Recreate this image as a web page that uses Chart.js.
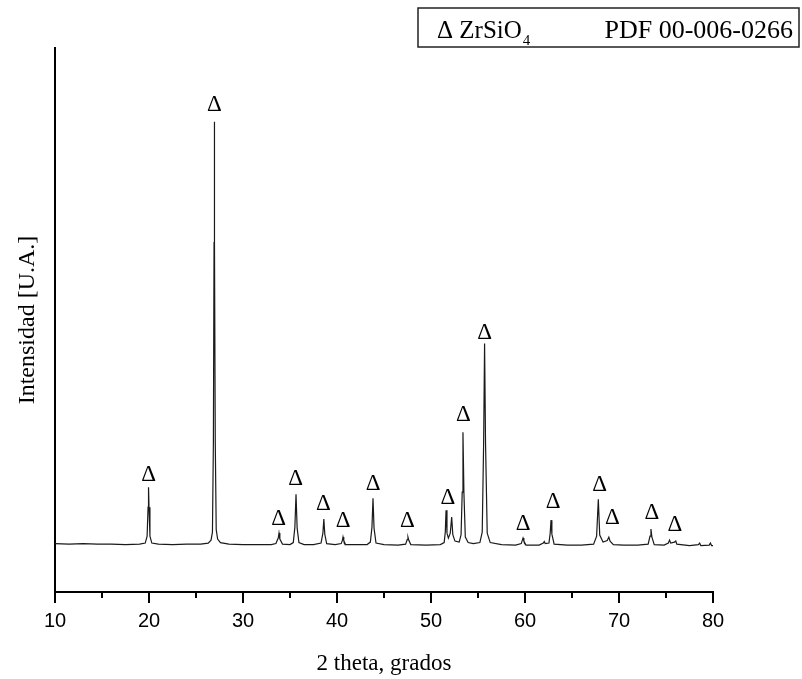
<!DOCTYPE html>
<html>
<head>
<meta charset="utf-8">
<title>DRX ZrSiO4</title>
<script src="https://cdn.jsdelivr.net/npm/chart.js@4.4.1/dist/chart.umd.min.js"></script>
<style>
  html, body { margin: 0; padding: 0; background: #fff; }
  #wrap { width: 802px; height: 679px; }
</style>
</head>
<body>
<div id="wrap"><canvas id="myChart" width="802" height="679"></canvas></div>
<script>
// Pattern (2 theta in degrees, intensity in arbitrary units)
const theta = [
  10.0, 11.5, 13.0, 14.5, 16.0, 17.5, 19.0,
  19.6, 19.8, 19.9, 19.95, 20.0, 20.1, 20.3,
  21.0, 22.5, 24.0, 25.5,
  26.3, 26.6, 26.75, 26.85, 26.92, 26.95, 26.98, 27.05, 27.15, 27.3, 27.6,
  28.5, 30.0, 31.5, 33.0,
  33.5, 33.75, 33.83, 33.92, 34.2,
  35.0, 35.35, 35.52, 35.64, 35.76, 35.95,
  36.5, 37.5, 38.3, 38.5, 38.6, 38.7, 38.9,
  39.8, 40.45, 40.58, 40.64, 40.72, 40.9,
  42.0, 43.2, 43.55, 43.72, 43.83, 43.94, 44.15,
  45.0, 46.5, 47.3, 47.47, 47.55, 47.65, 47.85,
  49.5, 51.0, 51.4, 51.52, 51.6, 51.7, 51.85, 52.05, 52.2, 52.32, 52.55,
  53.0, 53.2, 53.32, 53.4, 53.5, 53.65, 53.95,
  54.5, 55.2, 55.45, 55.6, 55.7, 55.8, 55.98, 56.3,
  57.5, 59.0, 59.6, 59.72, 59.79, 59.88, 60.1,
  61.5, 61.95, 62.05, 62.15, 62.55, 62.68, 62.77, 62.86, 63.1,
  64.5, 66.0, 67.3, 67.62, 67.8, 67.95, 68.3, 68.75, 68.92, 69.05, 69.4,
  70.5, 72.0, 73.1, 73.3, 73.4, 73.5, 73.75,
  74.8, 75.25, 75.38, 75.5, 75.9, 76.04, 76.15,
  77.5, 78.45, 78.58, 78.7, 79.6, 79.72, 79.85, 80.0
];
const intensity = [
  97, 96, 97, 96, 96, 95, 96,
  98, 112, 170, 210, 170, 112, 98,
  96, 95, 96, 96,
  98, 104, 120, 300, 700, 942, 700, 300, 125, 106, 99,
  96, 95, 95, 95,
  97, 108, 118, 106, 96,
  95, 99, 130, 196, 128, 99,
  95, 95, 98, 118, 146, 116, 97,
  95, 97, 104, 110, 103, 95,
  95, 95, 100, 130, 188, 128, 98,
  95, 94, 96, 105, 110, 103, 95,
  94, 95, 99, 120, 164, 118, 108, 118, 150, 115, 102,
  100, 115, 200, 320, 200, 110, 99,
  97, 99, 120, 300, 498, 300, 118, 99,
  95, 94, 97, 104, 108, 102, 94,
  94, 98, 101, 97, 98, 118, 144, 116, 96,
  94, 94, 96, 112, 186, 114, 100, 103, 110, 102, 95,
  94, 94, 96, 112, 126, 110, 95,
  94, 98, 104, 98, 100, 102, 96,
  93, 95, 98, 93, 94, 98, 93, 93
];

// Positions of the "Δ" marks above the ZrSiO4 reflections
const markX = [19.95, 26.95, 33.8, 35.6, 38.55, 40.65, 43.85, 47.5, 51.8, 53.45, 55.7, 59.8, 63.0, 67.95, 69.3, 73.5, 75.95];
const markY = [234, 976, 146, 226, 176, 142, 216, 142, 188, 354, 520, 136, 180, 214, 148, 158, 134];

const xMajor = [10, 20, 30, 40, 50, 60, 70, 80];
const xMinor = [15, 25, 35, 45, 55, 65, 75];

const ctx = document.getElementById('myChart');

// Δ labels over the peaks
const deltaMarks = {
  id: 'deltaMarks',
  afterDatasetsDraw(chart) {
    const c = chart.ctx;
    const xs = chart.scales.x, ys = chart.scales.y;
    c.save();
    c.fillStyle = '#000';
    c.font = '23px "Liberation Serif", "DejaVu Serif", serif';
    c.textAlign = 'center';
    c.textBaseline = 'middle';
    for (let i = 0; i < markX.length; i++) {
      c.fillText('\u0394', xs.getPixelForValue(markX[i]), ys.getPixelForValue(markY[i]));
    }
    c.restore();
  }
};

// short minor tick marks under the x axis
const minorTicks = {
  id: 'minorTicks',
  afterDraw(chart) {
    const c = chart.ctx;
    const xs = chart.scales.x;
    const y0 = chart.chartArea.bottom;
    c.save();
    c.strokeStyle = '#000';
    c.lineWidth = 2;
    c.beginPath();
    xMinor.forEach(v => {
      const px = Math.round(xs.getPixelForValue(v));
      c.moveTo(px, y0);
      c.lineTo(px, y0 + 6);
    });
    c.stroke();
    c.restore();
  }
};

// boxed legend in the top right corner
const legendBox = {
  id: 'legendBox',
  afterDraw(chart) {
    const c = chart.ctx;
    c.save();
    c.strokeStyle = '#222';
    c.lineWidth = 1.5;
    c.strokeRect(418, 8, 381, 39);
    c.fillStyle = '#000';
    c.textBaseline = 'alphabetic';
    c.font = '25px "Liberation Serif", serif';
    c.fillText('\u0394 ZrSiO', 437, 38);
    const w = c.measureText('\u0394 ZrSiO').width;
    c.font = '15px "Liberation Serif", serif';
    c.fillText('4', 437 + w + 1, 45);
    c.font = '26px "Liberation Serif", serif';
    c.textAlign = 'right';
    c.fillText('PDF 00-006-0266', 793, 38);
    c.restore();
  }
};

const myChart = new Chart(ctx, {
  type: 'line',
  data: {
    datasets: [{
      data: theta.map((t, i) => ({ x: t, y: intensity[i] })),
      borderColor: '#1a1a1a',
      borderWidth: 1.2,
      pointRadius: 0,
      tension: 0,
      fill: false
    }]
  },
  options: {
    responsive: false,
    animation: false,
    layout: { padding: { top: 48, right: 89, left: 0, bottom: 0 } },
    plugins: {
      legend: { display: false },
      tooltip: { enabled: false }
    },
    scales: {
      x: {
        type: 'linear',
        min: 10,
        max: 80,
        afterBuildTicks: scale => { scale.ticks = xMajor.map(v => ({ value: v })); },
        afterFit: scale => { scale.height = 87; },
        grid: { display: true, drawOnChartArea: false, drawTicks: true, tickLength: 11, color: '#000', lineWidth: 2 },
        border: { display: true, color: '#000', width: 2 },
        ticks: {
          color: '#000',
          padding: 6,
          maxRotation: 0,
          font: { family: '"Liberation Sans", Arial, sans-serif', size: 20 }
        },
        title: {
          display: true,
          text: '2 theta, grados',
          color: '#000',
          padding: { top: 0, bottom: 1 },
          font: { family: '"Liberation Serif", serif', size: 23 }
        }
      },
      y: {
        min: 0,
        max: 1090,
        afterFit: scale => { scale.width = 55; },
        grid: { display: false },
        border: { display: true, color: '#000', width: 2 },
        ticks: { display: false },
        title: {
          display: true,
          text: 'Intensidad [U.A.]',
          color: '#000',
          padding: { top: 13, bottom: 0 },
          font: { family: '"Liberation Serif", serif', size: 24 }
        }
      }
    }
  },
  plugins: [deltaMarks, minorTicks, legendBox]
});
</script>
</body>
</html>
